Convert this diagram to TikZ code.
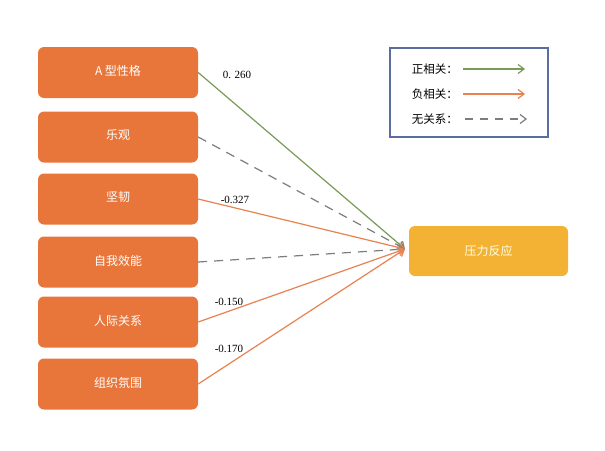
\documentclass[tikz,border=0pt]{standalone}
\usepackage{fontspec}
\setmainfont{Liberation Serif}
\newfontfamily\cjk{Noto Sans CJK SC}
\usetikzlibrary{arrows.meta}
\definecolor{boxorange}{RGB}{232,118,58}
\definecolor{boxyellow}{RGB}{243,178,52}
\definecolor{posgreen}{RGB}{122,154,88}
\definecolor{neglinecol}{RGB}{232,130,80}
\definecolor{nullgray}{RGB}{125,125,125}
\definecolor{legendblue}{RGB}{90,108,160}
\begin{document}
\begin{tikzpicture}[x=1pt,y=-1pt,
  srcbox/.style={fill=boxorange, rounded corners=6pt, minimum width=160pt, minimum height=51pt, inner sep=0pt, text=white, font=\cjk\fontsize{12}{14}\selectfont},
  tgtbox/.style={fill=boxyellow, rounded corners=6pt, minimum width=159pt, minimum height=50pt, inner sep=0pt, text=white!90!yellow, font=\cjk\fontsize{12}{14}\selectfont},
  numlabel/.style={font=\fontsize{11}{13}\selectfont, inner sep=0pt},
  legtext/.style={font=\cjk\fontsize{11.5}{13}\selectfont, inner sep=0pt, anchor=east},
  tip/.style={-{Straight Barb[length=6pt,width=9pt]}},
  posline/.style={tip, draw=posgreen, line width=1.2pt},
  negline/.style={tip, draw=neglinecol, line width=1.2pt},
  nullline/.style={tip, draw=nullgray, line width=1.2pt, dash pattern=on 9pt off 7pt},
  legbox/.style={draw=legendblue, line width=1.3pt, minimum width=158pt, minimum height=89pt, inner sep=0pt}
]
\useasboundingbox (0,0) rectangle (605,450);
\fill[white] (0,0) rectangle (605,450);

\node[srcbox] (a) at (118,72.5) {\raisebox{4pt}{A 型性格}};
\node[srcbox] (b) at (118,137) {\raisebox{4pt}{乐观}};
\node[srcbox] (c) at (118,199) {\raisebox{4pt}{坚韧}};
\node[srcbox] (d) at (118,262) {\raisebox{4pt}{自我效能}};
\node[srcbox] (e) at (118,322) {\raisebox{4pt}{人际关系}};
\node[srcbox] (f) at (118,384) {\raisebox{4pt}{组织氛围}};

\node[tgtbox] (t) at (488.5,251) {压力反应};
\coordinate (T) at (405,249);

\draw[posline] (a.east) -- (T);
\draw[nullline] (b.east) -- (T);
\draw[negline] (c.east) -- (T);
\draw[nullline] (d.east) -- (T);
\draw[negline] (e.east) -- (T);
\draw[negline] (f.east) -- (T);

\node[numlabel] (la) at (237,75) {0. 260};
\node[numlabel] (lc) at (235,200) {-0.327};
\node[numlabel] (le) at (229,302) {-0.150};
\node[numlabel] (lf) at (229,349) {-0.170};

\node[legbox] (leg) at (469,92.5) {};
\node[legtext] (l1) at (458,69) {正相关：};
\node[legtext] (l2) at (458,94) {负相关：};
\node[legtext] (l3) at (458,119) {无关系：};
\coordinate (p1s) at (463,69);  \coordinate (p1e) at (525,69);
\coordinate (p2s) at (463,94);  \coordinate (p2e) at (525,94);
\coordinate (p3s) at (465,119); \coordinate (p3e) at (527,119);
\draw[posline] (p1s) -- (p1e);
\draw[negline] (p2s) -- (p2e);
\draw[nullline, dash pattern=on 8pt off 7pt] (p3s) -- (p3e);
\end{tikzpicture}
\end{document}
